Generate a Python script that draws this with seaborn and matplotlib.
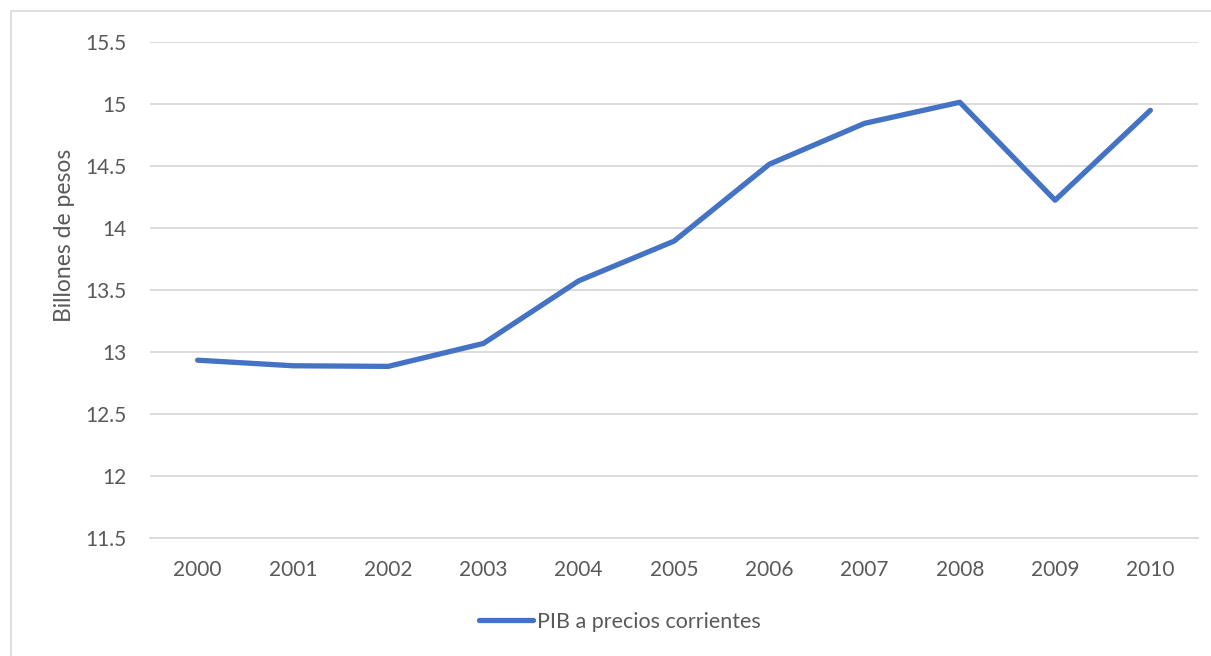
import matplotlib
matplotlib.use("Agg")
import matplotlib.pyplot as plt
from matplotlib.patches import Rectangle
import seaborn as sns
import pandas as pd

# PIB a precios corrientes, billones de pesos
years = [2000, 2001, 2002, 2003, 2004, 2005, 2006, 2007, 2008, 2009, 2010]
pib = [12.93, 12.885, 12.88, 13.065, 13.57, 13.89, 14.51, 14.84, 15.01, 14.22, 14.945]
y_ticks = [11.5, 12, 12.5, 13, 13.5, 14, 14.5, 15, 15.5]
y_tick_labels = ["11.5", "12", "12.5", "13", "13.5", "14", "14.5", "15", "15.5"]
series_name = "PIB a precios corrientes"
y_title = "Billones de pesos"

df = pd.DataFrame({"year": years, "pib": pib})

sns.set_theme(style="white")
plt.rcParams["font.family"] = ["Lato", "DejaVu Sans"]

W, H = 1211, 656
fig = plt.figure(figsize=(W / 100, H / 100), dpi=100)
ax = fig.add_axes([150 / W, 1 - 537.5 / H, 1048 / W, 496 / H])

text_color = "#595959"
grid_color = "#D9D9D9"
line_color = "#4472C4"

sns.lineplot(data=df, x="year", y="pib", ax=ax, color=line_color,
             linewidth=3.8, solid_capstyle="round", solid_joinstyle="round",
             label=series_name, legend=False)

ax.set_xlim(years[0] - 0.5, years[-1] + 0.5)
ax.set_ylim(y_ticks[0], y_ticks[-1])
ax.set_xticks(years)
ax.set_xticklabels([str(y) for y in years])
ax.set_yticks(y_ticks)
ax.set_yticklabels(y_tick_labels)

ax.yaxis.grid(True, color=grid_color, linewidth=1.3)
ax.xaxis.grid(False)
ax.set_axisbelow(True)
for side in ["top", "right", "left"]:
    ax.spines[side].set_visible(False)
ax.spines["bottom"].set_color(grid_color)
ax.spines["bottom"].set_linewidth(1.3)

ax.tick_params(axis="both", length=0, labelsize=15, labelcolor=text_color)
ax.tick_params(axis="y", pad=17)
ax.tick_params(axis="x", pad=16)

ax.set_xlabel("")
ax.set_ylabel(y_title, fontsize=16.5, color=text_color)
ax.yaxis.set_label_coords(-0.072, 0.61)

handles, labels = ax.get_legend_handles_labels()
fig.legend(handles, labels, loc="center", bbox_to_anchor=(620 / W, 1 - 622 / H),
           frameon=False, fontsize=15.5, labelcolor=text_color,
           handlelength=2.5, handletextpad=0.2)

# chart area outline
fig.patches.append(Rectangle((11 / W, -0.05), 1.2, 1 - 11 / H + 0.05,
                             transform=fig.transFigure, fill=False,
                             edgecolor=grid_color, linewidth=1.2))

fig.savefig("out.png", dpi=100)
